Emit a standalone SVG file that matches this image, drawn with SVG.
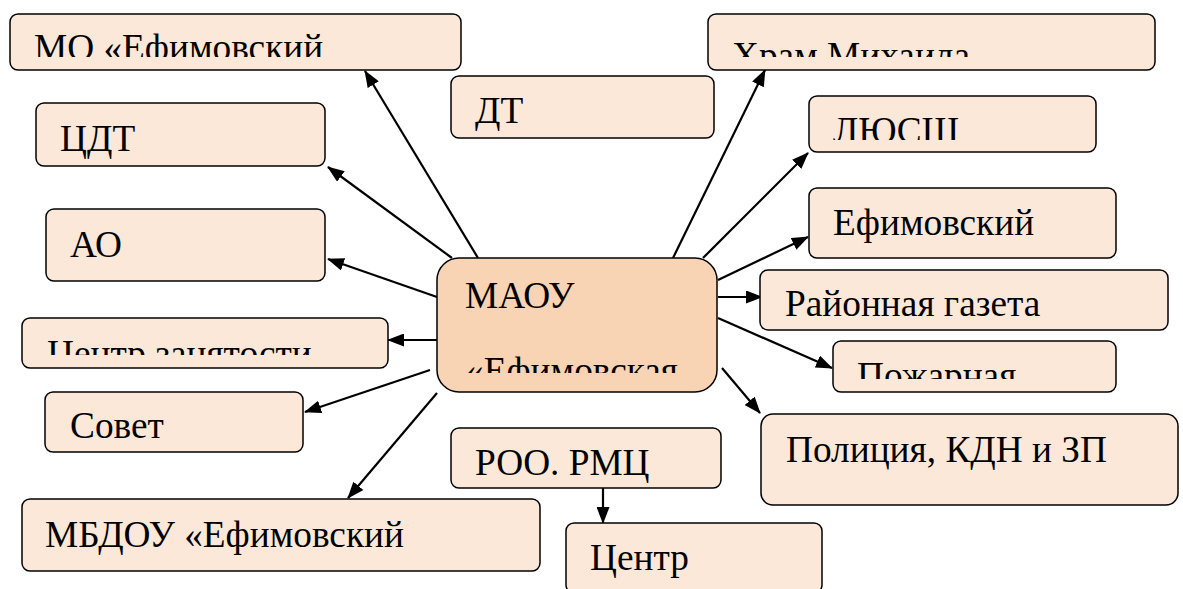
<svg xmlns="http://www.w3.org/2000/svg" width="1183" height="589" viewBox="0 0 1183 589">
<style>
.box{fill:#FCE8D9;stroke:#000;stroke-width:1.5}
.main{fill:#F9D4B4;stroke:#000;stroke-width:1.5}
text{font-family:'Liberation Serif','Times New Roman',serif;font-size:37.3px;fill:#000}
.c line{stroke:#000;stroke-width:2.2;marker-end:url(#ah)}
</style>
<defs>
<marker id="ah" markerWidth="17" markerHeight="13" refX="16" refY="6.5" orient="auto" markerUnits="userSpaceOnUse">
<path d="M0,0 L17,6.5 L0,13 Z" fill="#000"/>
</marker>
<clipPath id="cMO"><rect x="0" y="0" width="470" height="57"/></clipPath>
<clipPath id="cHram"><rect x="700" y="0" width="470" height="57"/></clipPath>
<clipPath id="cLUS"><rect x="800" y="90" width="300" height="50"/></clipPath>
<clipPath id="cCZ"><rect x="15" y="315" width="380" height="40"/></clipPath>
<clipPath id="cPoj"><rect x="830" y="340" width="290" height="39"/></clipPath>
<clipPath id="cMain"><rect x="430" y="250" width="300" height="123"/></clipPath>
</defs>
<g class="c">
<line x1="478" y1="258" x2="365" y2="71"/>
<line x1="452" y1="258" x2="328" y2="167"/>
<line x1="437" y1="297" x2="328" y2="259"/>
<line x1="437" y1="340" x2="388" y2="340"/>
<line x1="430" y1="370" x2="305" y2="412"/>
<line x1="437" y1="393" x2="348" y2="498"/>
<line x1="673" y1="258" x2="765" y2="70"/>
<line x1="703" y1="258" x2="808" y2="153"/>
<line x1="718" y1="280" x2="808" y2="237"/>
<line x1="718" y1="297" x2="762" y2="297"/>
<line x1="718" y1="318" x2="832" y2="368"/>
<line x1="722" y1="368" x2="760" y2="413"/>
<line x1="603" y1="488" x2="603" y2="523"/>
</g>
<g id="mo"><rect class="box" x="10" y="14" width="451" height="56" rx="8"/><text x="34" y="60" clip-path="url(#cMO)">МО «Ефимовский</text></g>
<g id="dt"><rect class="box" x="451" y="76" width="263" height="62" rx="8"/><text x="475" y="123">ДТ</text></g>
<g id="hram"><rect class="box" x="708" y="14" width="447" height="56" rx="8"/><text x="732" y="68" clip-path="url(#cHram)">Храм Михаила</text></g>
<g id="cdt"><rect class="box" x="36" y="103" width="289" height="63" rx="8"/><text x="60" y="151">ЦДТ</text></g>
<g id="lus"><rect class="box" x="809" y="96" width="287" height="56" rx="8"/><text x="833" y="143" clip-path="url(#cLUS)">ЛЮСШ</text></g>
<g id="efim"><rect class="box" x="809" y="188" width="307" height="70" rx="8"/><text x="833" y="235">Ефимовский</text></g>
<g id="ao"><rect class="box" x="46" y="209" width="279" height="72" rx="8"/><text x="70" y="257">АО</text></g>
<g id="maou"><rect class="main" x="437" y="258" width="280" height="134" rx="22"/><text x="465" y="308">МАОУ</text><text x="465" y="383" clip-path="url(#cMain)">«Ефимовская</text></g>
<g id="gazeta"><rect class="box" x="760" y="270" width="408" height="60" rx="8"/><text x="785" y="316">Районная газета</text></g>
<g id="cz"><rect class="box" x="22" y="318" width="366" height="50" rx="8"/><text x="47" y="366" clip-path="url(#cCZ)">Центр занятости</text></g>
<g id="pojar"><rect class="box" x="833" y="341" width="283" height="51" rx="8"/><text x="857" y="388" clip-path="url(#cPoj)">Пожарная</text></g>
<g id="sovet"><rect class="box" x="45" y="392" width="258" height="60" rx="8"/><text x="70" y="438">Совет</text></g>
<g id="police"><rect class="box" x="761" y="414" width="417" height="91" rx="12"/><text x="786" y="462">Полиция, КДН и ЗП</text></g>
<g id="roo"><rect class="box" x="451" y="428" width="270" height="60" rx="8"/><text x="475" y="475">РОО. РМЦ</text></g>
<g id="centr"><rect class="box" x="566" y="523" width="256" height="70" rx="8"/><text x="590" y="570">Центр</text></g>
<g id="mbdou"><rect class="box" x="22" y="499" width="518" height="72" rx="8"/><text x="45" y="547">МБДОУ «Ефимовский</text></g>
</svg>
